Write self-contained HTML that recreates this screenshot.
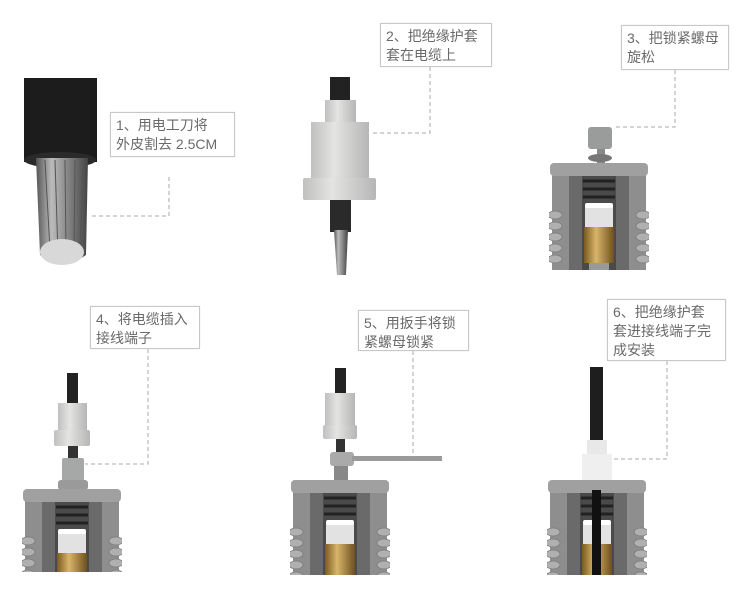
<!DOCTYPE html>
<html><head><meta charset="utf-8">
<style>
html,body{margin:0;padding:0;background:#fff;}
.wrap{position:relative;width:750px;height:600px;overflow:hidden;}
svg{position:absolute;left:0;top:0;}
.lb{position:absolute;border:1px solid #c8c8c8;box-shadow:0 0 1px #ddd;background:#fff;color:#6a6a6a;font-family:"Liberation Sans","Noto Sans CJK SC",sans-serif;font-size:14px;line-height:19px;padding:3px 5px;box-sizing:border-box;white-space:nowrap;}
</style></head><body><div class="wrap">
<svg width="750" height="600" viewBox="0 0 750 600">
<defs>
<linearGradient id="strand" x1="0" x2="1">
<stop offset="0" stop-color="#555"/><stop offset=".3" stop-color="#bbb"/><stop offset=".6" stop-color="#888"/><stop offset="1" stop-color="#444"/></linearGradient>
<linearGradient id="sl" x1="0" x2="1"><stop offset="0" stop-color="#bfc0bf"/><stop offset=".4" stop-color="#e4e4e2"/><stop offset="1" stop-color="#b5b6b5"/></linearGradient>
<linearGradient id="brass" x1="0" x2="1"><stop offset="0" stop-color="#7a5a20"/><stop offset=".4" stop-color="#d8b56a"/><stop offset="1" stop-color="#6e5020"/></linearGradient>
<g id="term">
<rect x="20" y="10" width="60" height="100" fill="#6a6a6a"/>
<rect x="33" y="10" width="34" height="100" fill="#4a4a4a"/>
<g stroke="#222" stroke-width="3" fill="none">
<path d="M34 18 H66 M34 26 H66 M34 34 H66"/></g>
<rect x="36" y="42" width="28" height="22" fill="#e2e2e2"/>
<rect x="36" y="40" width="28" height="5" rx="2" fill="#fff"/>
<rect x="35" y="64" width="30" height="36" fill="url(#brass)"/>
<rect x="40" y="100" width="20" height="10" fill="#999"/>
<rect x="3" y="8" width="17" height="102" fill="#8e8e8e"/>
<rect x="80" y="8" width="17" height="102" fill="#8e8e8e"/>
<rect x="1" y="0" width="98" height="13" rx="4" fill="#a0a0a0"/>
<g fill="#b0b0b0" stroke="#7a7a7a" stroke-width=".8">
<ellipse cx="6" cy="52" rx="7" ry="4"/><ellipse cx="6" cy="63" rx="7" ry="4"/><ellipse cx="6" cy="74" rx="7" ry="4"/><ellipse cx="6" cy="85" rx="7" ry="4"/><ellipse cx="6" cy="96" rx="7" ry="4"/>
<ellipse cx="94" cy="52" rx="7" ry="4"/><ellipse cx="94" cy="63" rx="7" ry="4"/><ellipse cx="94" cy="74" rx="7" ry="4"/><ellipse cx="94" cy="85" rx="7" ry="4"/><ellipse cx="94" cy="96" rx="7" ry="4"/>
</g>
</g>
</defs>
<!-- cable 1 -->
<rect x="24" y="78" width="73" height="84" fill="#1c1c1c"/>
<ellipse cx="60" cy="160" rx="36" ry="8" fill="#2a2a2a"/>
<path d="M36 158 L88 158 L86 255 Q62 272 40 255 Z" fill="url(#strand)"/>
<g stroke="#555" stroke-width="1"><path d="M45 160 L50 250 M55 160 L58 255 M65 160 L66 255 M75 160 L74 252 M83 160 L80 248"/></g>
<ellipse cx="62" cy="252" rx="22" ry="13" fill="#d8d8d8"/>
<!-- cable 2 -->
<rect x="330" y="77" width="20" height="30" fill="#222"/>
<rect x="325" y="100" width="31" height="22" fill="url(#sl)"/>
<rect x="311" y="122" width="58" height="56" fill="url(#sl)"/>
<rect x="303" y="178" width="73" height="22" rx="2" fill="url(#sl)"/>
<rect x="330" y="200" width="21" height="32" fill="#2a2a2a"/>
<path d="M334 230 L348 230 L346 275 L337 275 Z" fill="url(#strand)"/>
<!-- terminal 3 -->
<rect x="597" y="145" width="8" height="20" fill="#888"/>
<rect x="588" y="127" width="24" height="22" rx="3" fill="#9a9c9c"/>
<ellipse cx="600" cy="158" rx="12" ry="4" fill="#777"/>
<svg x="549" y="163" width="100" height="107" viewBox="0 0 100 107"><use href="#term"/></svg>
<!-- terminal 4 -->
<rect x="67" y="373" width="11" height="40" fill="#222"/>
<rect x="58" y="403" width="29" height="28" fill="url(#sl)"/>
<rect x="54" y="430" width="36" height="16" rx="2" fill="url(#sl)"/>
<rect x="68" y="446" width="10" height="14" fill="#333"/>
<rect x="62" y="458" width="22" height="24" rx="2" fill="#a6a8a8"/>
<rect x="58" y="480" width="30" height="10" rx="3" fill="#9a9a9a"/>
<svg x="22" y="489" width="100" height="83" viewBox="0 0 100 83"><use href="#term"/></svg>
<!-- terminal 5 -->
<rect x="335" y="368" width="11" height="30" fill="#222"/>
<rect x="325" y="393" width="30" height="40" fill="url(#sl)"/>
<rect x="323" y="425" width="34" height="14" rx="2" fill="url(#sl)"/>
<rect x="336" y="439" width="9" height="14" fill="#333"/>
<rect x="330" y="452" width="24" height="14" rx="3" fill="#aaa"/>
<rect x="352" y="456" width="90" height="5" fill="#9a9a9a"/>
<rect x="334" y="466" width="14" height="14" fill="#888"/>
<svg x="290" y="480" width="100" height="95" viewBox="0 0 100 95"><use href="#term"/></svg>
<!-- terminal 6 -->
<rect x="590" y="367" width="13" height="80" fill="#1e1e1e"/>
<rect x="587" y="440" width="20" height="16" fill="#e8e8e8"/>
<rect x="582" y="454" width="30" height="28" fill="#efefef"/>
<svg x="547" y="480" width="100" height="95" viewBox="0 0 100 95"><use href="#term"/></svg>
<rect x="592" y="490" width="9" height="85" fill="#111"/>
<!-- dashed connectors -->
<g stroke="#aaa" stroke-width="1" stroke-dasharray="4,3" fill="none">
<path d="M169 177 V216 H92"/>
<path d="M430 67 V133 H370"/>
<path d="M675 70 V127 H613"/>
<path d="M148 349 V464 H85"/>
<path d="M413 351 V457"/>
<path d="M667 361 V459 H613"/>
</g>
</svg>
<div class="lb" style="left:110px;top:112px;width:125px;height:45px;">1、用电工刀将<br>外皮割去 2.5CM</div>
<div class="lb" style="left:380px;top:23px;width:112px;height:44px;">2、把绝缘护套<br>套在电缆上</div>
<div class="lb" style="left:621px;top:25px;width:108px;height:45px;">3、把锁紧螺母<br>旋松</div>
<div class="lb" style="left:90px;top:306px;width:110px;height:43px;">4、将电缆插入<br>接线端子</div>
<div class="lb" style="left:358px;top:310px;width:111px;height:41px;">5、用扳手将锁<br>紧螺母锁紧</div>
<div class="lb" style="left:607px;top:299px;width:119px;height:62px;">6、把绝缘护套<br>套进接线端子完<br>成安装</div>
</div></body></html>
